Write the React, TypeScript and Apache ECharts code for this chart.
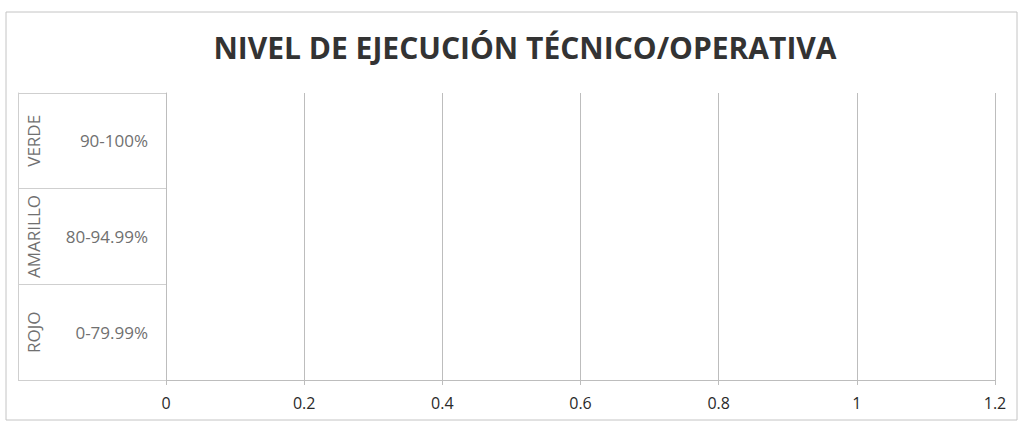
import React, { useEffect, useRef } from "react";
import * as echarts from "echarts";

const title = "NIVEL DE EJECUCIÓN TÉCNICO/OPERATIVA";
const levels = ["VERDE", "AMARILLO", "ROJO"];
const ranges = ["90-100%", "80-94.99%", "0-79.99%"];
const values = [0, 0, 0];
const xTicks = [0, 0.2, 0.4, 0.6, 0.8, 1, 1.2];

export default function App() {
  const ref = useRef<HTMLDivElement>(null);
  useEffect(() => {
    document.body.style.margin = "0";
    const chart = echarts.init(ref.current!, null, { renderer: "svg" });
    const font = "Open Sans";
    chart.setOption({
      animation: false,
      backgroundColor: "#ffffff",
      title: {
        text: title,
        left: 520,
        textAlign: "center",
        top: 27,
        textStyle: { fontFamily: font, fontWeight: "bold", fontSize: 30, color: "#333333" },
      },
      grid: { left: 166, right: 26, top: 93, bottom: 46, containLabel: false },
      xAxis: {
        type: "value",
        min: xTicks[0],
        max: xTicks[xTicks.length - 1],
        interval: 0.2,
        axisLine: { show: true, lineStyle: { color: "#bdbdbd", width: 1 } },
        axisTick: { show: true, length: 5, lineStyle: { color: "#bdbdbd" } },
        splitLine: { show: true, lineStyle: { color: "#bdbdbd", width: 1 } },
        axisLabel: {
          margin: 15,
          fontFamily: font,
          fontSize: 16,
          color: "#2a2a2a",
          formatter: (v: number) => String(Math.round(v * 10) / 10),
        },
      },
      yAxis: [
        {
          type: "category",
          data: ranges,
          inverse: true,
          position: "left",
          axisLine: { show: true, lineStyle: { color: "#bdbdbd" } },
          axisTick: { show: true, length: 148, lineStyle: { color: "#cfcfcf" } },
          axisLabel: { interval: 0, margin: 18, fontFamily: font, fontSize: 17, color: "#707070" },
        },
        {
          type: "category",
          data: levels,
          inverse: true,
          position: "left",
          offset: 148,
          axisLine: { show: true, lineStyle: { color: "#cfcfcf" } },
          axisTick: { show: false },
          axisLabel: {
            interval: 0,
            hideOverlap: false,
            inside: true,
            rotate: 90,
            margin: 7,
            fontFamily: font,
            fontSize: 17,
            color: "#707070",
          },
        },
      ],
      series: [
        {
          type: "bar",
          data: values,
          yAxisIndex: 0,
          barWidth: "50%",
          itemStyle: { color: "#4472c4" },
        },
      ],
      graphic: [
        {
          type: "rect",
          shape: { x: 6, y: 12, width: 1011, height: 408 },
          style: { fill: "none", stroke: "#c4c4c4", lineWidth: 1 },
          silent: true,
        },
      ],
    });
    return () => chart.dispose();
  }, []);
  return <div ref={ref} style={{ width: 1021, height: 426, position: "absolute", left: 0, top: 0 }} />;
}
